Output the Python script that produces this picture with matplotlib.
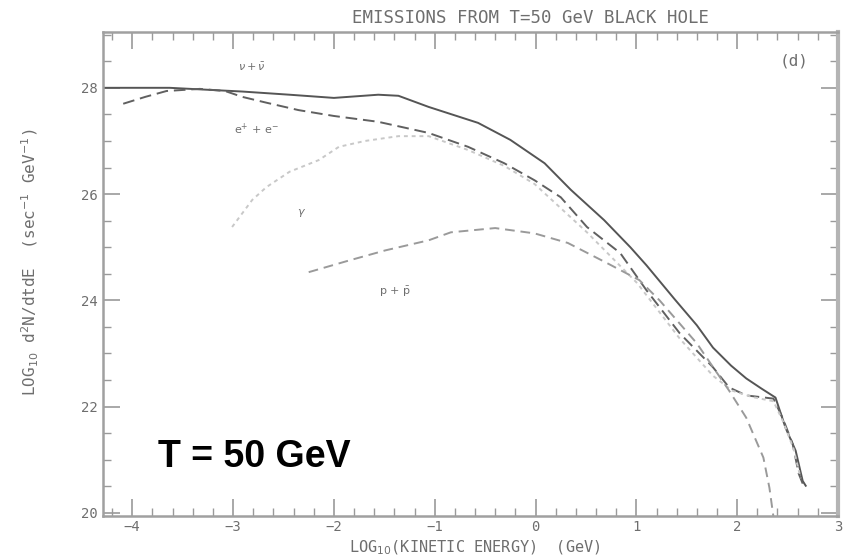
import matplotlib
matplotlib.use("Agg")
import matplotlib.pyplot as plt
from matplotlib.ticker import MultipleLocator

# log10(kinetic energy / GeV) and log10(d2N/dtdE) for each emitted species
nu_x = [-4.29, -3.63, -2.91, -2.44, -2.00, -1.56, -1.36, -1.06, -0.57, -0.25,
        0.09, 0.35, 0.68, 0.94, 1.10, 1.38, 1.60, 1.76, 1.94, 2.09, 2.24, 2.38,
        2.48, 2.58, 2.65, 2.68]
nu_y = [28.00, 28.00, 27.93, 27.87, 27.81, 27.87, 27.85, 27.64, 27.34, 27.02,
        26.58, 26.08, 25.51, 25.00, 24.66, 24.02, 23.53, 23.11, 22.77, 22.53, 22.34, 22.17,
        21.60, 21.17, 20.60, 20.51]

e_x = [-4.09, -3.87, -3.66, -3.33, -3.08, -2.91, -2.67, -2.35, -2.00, -1.56, -1.06,
       -0.67, -0.31, -0.01, 0.25, 0.51, 0.84, 1.10, 1.43, 1.76, 1.92, 2.09, 2.36, 2.45, 2.55, 2.61, 2.65]
e_y = [27.70, 27.83, 27.94, 27.98, 27.94, 27.83, 27.72, 27.58, 27.47, 27.36, 27.15,
       26.89, 26.58, 26.26, 25.94, 25.38, 24.89, 24.19, 23.38, 22.74, 22.36, 22.21, 22.15, 21.79, 21.30, 20.74, 20.55]

gam_x = [-3.01, -2.81, -2.67, -2.44, -2.15, -1.95, -1.69, -1.36, -1.06, -0.67,
         -0.31, -0.01, 0.51, 1.01, 1.43, 1.76, 1.95, 2.15, 2.36, 2.46, 2.56, 2.63]
gam_y = [25.38, 25.89, 26.13, 26.42, 26.64, 26.89, 27.00, 27.09, 27.09, 26.83,
         26.53, 26.19, 25.28, 24.32, 23.28, 22.58, 22.30, 22.18, 22.10, 21.70, 21.20, 20.65]

p_x = [-2.25, -1.85, -1.49, -1.06, -0.84, -0.40, -0.01, 0.32, 0.71, 1.03,
       1.23, 1.60, 1.92, 2.09, 2.26, 2.32, 2.36]
p_y = [24.53, 24.75, 24.94, 25.13, 25.28, 25.36, 25.26, 25.08, 24.70, 24.38,
       24.00, 23.19, 22.30, 21.79, 21.04, 20.47, 19.92]

x_ticks = [-4, -3, -2, -1, 0, 1, 2, 3]
y_ticks = [20, 22, 24, 26, 28]

grey = "#6e6e6e"
mono = "DejaVu Sans Mono"

fig = plt.figure(figsize=(8.53, 5.56), dpi=100)
ax = fig.add_axes([0.1208, 0.0719, 0.8616, 0.8705])

ax.plot(nu_x, nu_y, color="#555555", lw=1.4, ls="-")
ax.plot(e_x, e_y, color="#606060", lw=1.4, ls=(0, (6, 3)))
ax.plot(gam_x, gam_y, color="#c8c8c8", lw=1.4, ls=(0, (2, 2)))
ax.plot(p_x, p_y, color="#9a9a9a", lw=1.4, ls=(0, (5, 3)))

ax.set_xlim(-4.29, 2.96)
ax.set_ylim(19.94, 29.05)
ax.set_xticks(x_ticks)
ax.set_yticks(y_ticks)
ax.xaxis.set_minor_locator(MultipleLocator(0.2))
ax.yaxis.set_minor_locator(MultipleLocator(0.5))
ax.tick_params(which="both", direction="in", top=True, right=True,
               color="#9a9a9a", labelcolor=grey, labelsize=10)
ax.tick_params(which="major", length=12, width=1.2)
ax.tick_params(which="minor", length=6, width=1.0)
ax.tick_params(axis="x", pad=3)
for lbl in ax.get_xticklabels() + ax.get_yticklabels():
    lbl.set_family(mono)
for side in ("left", "bottom", "right", "top"):
    ax.spines[side].set_color("#a0a0a0")
    ax.spines[side].set_linewidth(1.8)
ax.spines["right"].set_linewidth(3.0)
ax.spines["right"].set_color("#b4b4b4")

ax.set_xlabel(r"LOG$_{10}$(KINETIC ENERGY)  (GeV)", color=grey, fontsize=11,
              family=mono, va="center")
ax.xaxis.set_label_coords(0.506, -0.065)
ax.set_ylabel(r"LOG$_{10}$ d$^2$N/dtdE  (sec$^{-1}$ GeV$^{-1}$)", color=grey,
              fontsize=11.5, family=mono, va="center")
ax.yaxis.set_label_coords(-0.099, 0.525)
fig.text(0.6225, 0.9676, "EMISSIONS FROM T=50 GeV BLACK HOLE", color=grey,
         fontsize=12.5, family=mono, ha="center", va="center")

ax.text(2.42, 28.50, "(d)", color=grey, fontsize=11.5, family=mono,
        ha="left", va="center")

ax.text(-2.81, 28.40, r"$\nu + \bar{\nu}$", color=grey, fontsize=8, ha="center", va="center")
ax.text(-2.77, 27.21, r"e$^{+}$ + e$^{-}$", color=grey, fontsize=8, ha="center", va="center")
ax.text(-2.32, 25.64, r"$\gamma$", color=grey, fontsize=8, ha="center", va="center")
ax.text(-1.39, 24.15, r"p + $\bar{\mathrm{p}}$", color=grey, fontsize=8, ha="center", va="center")

ax.text(-3.74, 21.05, "T = 50 GeV", fontsize=27, fontweight="bold",
        family="Liberation Sans", color="black", ha="left", va="center")

fig.savefig("out.png", dpi=100)
